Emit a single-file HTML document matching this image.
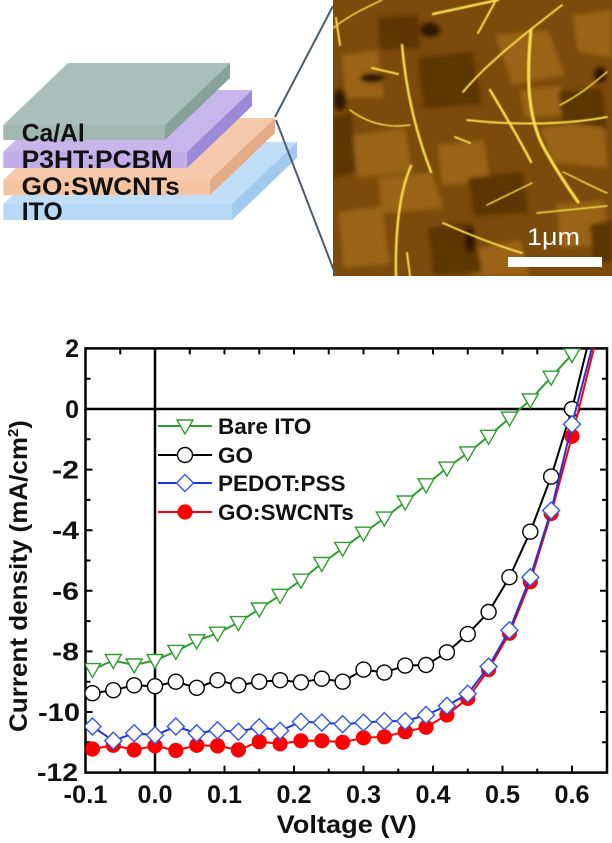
<!DOCTYPE html>
<html><head><meta charset="utf-8"><style>
html,body{margin:0;padding:0;background:#fff;}
svg{display:block;}
</style></head><body>
<svg width="612" height="843" viewBox="0 0 612 843" xmlns="http://www.w3.org/2000/svg" font-family="Liberation Sans, Arial, sans-serif">
<defs>
<clipPath id="pc"><rect x="85.5" y="348.4" width="521.5" height="424.2"/></clipPath>
<clipPath id="afm"><rect x="333" y="0" width="279" height="276"/></clipPath>
<filter id="soft" x="-5%" y="-5%" width="110%" height="110%"><feGaussianBlur stdDeviation="2.2"/></filter>
<filter id="soft2" x="-5%" y="-5%" width="110%" height="110%"><feGaussianBlur stdDeviation="0.6"/></filter>
<polygon id="tri" points="-8,-6 8,-6 0,8" fill="#fff" stroke="#2e9e2e" stroke-width="1.4"/>
<circle id="circ" r="7.5" fill="#fff" stroke="#000" stroke-width="1.4"/>
<polygon id="dia" points="0,-8.5 8.5,0 0,8.5 -8.5,0" fill="#fff" stroke="#3355ee" stroke-width="1.4"/>
<circle id="red" r="7.6" fill="#ff0000"/>
</defs>
<rect width="612" height="843" fill="#fff"/>

<!-- AFM image -->
<g clip-path="url(#afm)">
<rect x="333" y="0" width="279" height="276" fill="#7c4a0a"/>
<g filter="url(#soft)">
<g fill="#9a6414">
<polygon points="495,35 548,30 565,75 512,85"/>
<polygon points="352,135 405,128 412,172 358,178"/>
<polygon points="540,128 603,120 608,168 552,162"/>
<polygon points="378,178 432,172 444,208 382,214"/>
<polygon points="338,212 382,206 390,264 344,268"/>
<polygon points="556,205 604,200 610,244 562,248"/>
<polygon points="438,145 484,140 490,182 442,185"/>
<polygon points="342,55 378,50 384,98 346,98"/>
<polygon points="572,15 612,10 612,58 578,52"/>
<polygon points="470,250 520,240 530,276 472,276"/>
<polygon points="520,90 560,85 565,115 525,118"/>
</g>
<g fill="#5c3406">
<polygon points="418,58 472,52 482,104 424,108"/>
<polygon points="468,178 522,172 528,212 474,216"/>
<polygon points="333,118 352,112 355,172 333,178"/>
<polygon points="558,92 602,88 607,128 563,122"/>
<polygon points="428,228 472,222 482,272 434,275"/>
<polygon points="378,18 418,15 420,48 380,50"/>
<polygon points="590,225 612,220 612,262 594,262"/>
</g>
<g fill="#2e1803">
<ellipse cx="430" cy="30" rx="10" ry="7"/>
<ellipse cx="372" cy="78" rx="12" ry="5"/>
<ellipse cx="470" cy="240" rx="5" ry="13"/>
<ellipse cx="340" cy="100" rx="6" ry="11"/>
<ellipse cx="600" cy="75" rx="6" ry="8"/>
</g>
</g>
<g fill="none" stroke="#f7dc4c" stroke-linecap="round" filter="url(#soft2)">
<path d="M531,30 C526,80 528,120 545,150 S570,190 578,202" stroke-width="3.2"/>
<path d="M402,45 C406,90 415,130 431,172" stroke-width="2.5"/>
<path d="M411,166 C400,190 395,230 396,276" stroke-width="2.5"/>
<path d="M467,120 C520,126 570,124 607,117" stroke-width="2"/>
<path d="M463,92 C490,60 530,30 562,5" stroke-width="2"/>
<path d="M490,90 C505,115 520,140 531,162" stroke-width="2.5"/>
<path d="M443,223 C470,235 495,245 522,253" stroke-width="2"/>
<path d="M487,205 L532,183" stroke-width="1.5"/>
<path d="M433,14 C460,8 480,4 498,0" stroke-width="2.5"/>
<path d="M478,33 L495,2" stroke-width="2"/>
<path d="M333,28 C350,15 365,8 382,0" stroke-width="1.5"/>
<path d="M336,18 L340,45" stroke-width="2"/>
<path d="M350,110 C370,125 390,128 410,125" stroke-width="1.5"/>
<path d="M560,105 C580,95 595,82 607,72" stroke-width="1.5"/>
<path d="M372,68 L398,74" stroke-width="2"/>
<path d="M537,213 L607,206" stroke-width="1.5"/>
<path d="M407,253 L410,276" stroke-width="2"/>
<path d="M563,172 C580,180 595,188 607,193" stroke-width="1.5"/>
<path d="M455,137 L470,143" stroke-width="2"/>
</g>
<rect x="508" y="257" width="94" height="10" fill="#fff"/>
<text x="527" y="245" font-size="24" fill="#fff" textLength="53" lengthAdjust="spacingAndGlyphs">1μm</text>
</g>

<!-- Layer stack -->
<g>
<polygon points="3.3,204 232,204 297,142 68,142" fill="#c0def8"/>
<rect x="3.3" y="204" width="228.7" height="16" fill="#b8d9f5"/>
<polygon points="232,204 297,142 297,158 232,220" fill="#a3caee"/>

<polygon points="3.3,180 210,180 275,118 68,118" fill="#f6c9aa"/>
<rect x="3.3" y="180" width="206.7" height="15" fill="#f4c4a3"/>
<polygon points="210,180 275,118 275,133 210,195" fill="#e2ac88"/>

<polygon points="3.3,152 187,152 252,90 68,90" fill="#c7b5ec"/>
<rect x="3.3" y="152" width="183.7" height="16" fill="#c3aeea"/>
<polygon points="187,152 252,90 252,106 187,168" fill="#9c89d8"/>

<polygon points="3.3,125 165,125 230,63 68,63" fill="#abbfba"/>
<rect x="3.3" y="125" width="161.7" height="15" fill="#a3b7b1"/>
<polygon points="165,125 230,63 230,78 165,140" fill="#88a199"/>
</g>
<g font-weight="bold" font-size="25" fill="#111">
<text x="21.7" y="141.5" textLength="63" lengthAdjust="spacingAndGlyphs">Ca/Al</text>
<text x="21.7" y="168" textLength="151" lengthAdjust="spacingAndGlyphs">P3HT:PCBM</text>
<text x="21.7" y="195" textLength="158" lengthAdjust="spacingAndGlyphs">GO:SWCNTs</text>
<text x="21.7" y="220" textLength="41" lengthAdjust="spacingAndGlyphs">ITO</text>
</g>
<g stroke="#4d5d6b" stroke-width="2" fill="none">
<line x1="275" y1="117" x2="333" y2="6"/>
<line x1="276" y1="120" x2="336" y2="276"/>
</g>

<!-- Chart -->
<g fill="none" stroke="#000" stroke-width="2.5">
<rect x="85.5" y="348.4" width="521.5" height="424.2"/>
<line x1="85.5" y1="409" x2="607" y2="409"/>
<line x1="155" y1="348.4" x2="155" y2="772.6"/>
</g>
<g stroke="#000" stroke-width="2">
<path d="M155,772.6v-7 M224.5,772.6v-7 M294,772.6v-7 M363.5,772.6v-7 M433,772.6v-7 M502.5,772.6v-7 M572,772.6v-7"/>
<path d="M120.25,772.6v-4 M189.75,772.6v-4 M259.25,772.6v-4 M328.75,772.6v-4 M398.25,772.6v-4 M467.75,772.6v-4 M537.25,772.6v-4"/>
<path d="M155,348.4v6 M224.5,348.4v6 M294,348.4v6 M363.5,348.4v6 M433,348.4v6 M502.5,348.4v6 M572,348.4v6"/>
<path d="M120.25,348.4v6 M189.75,348.4v6 M259.25,348.4v6 M328.75,348.4v6 M398.25,348.4v6 M467.75,348.4v6 M537.25,348.4v6"/>
<path d="M85.5,469.6h7 M85.5,530.2h7 M85.5,590.8h7 M85.5,651.4h7 M85.5,712h7"/>
<path d="M85.5,378.7h5 M85.5,439.3h5 M85.5,499.9h5 M85.5,560.5h5 M85.5,621.1h5 M85.5,681.7h5 M85.5,742.3h5"/>
<path d="M607,469.6h-7 M607,530.2h-7 M607,590.8h-7 M607,651.4h-7 M607,712h-7"/>
<path d="M607,378.7h-5 M607,439.3h-5 M607,499.9h-5 M607,560.5h-5 M607,621.1h-5 M607,681.7h-5 M607,742.3h-5"/>
</g>

<g font-weight="bold" font-size="25" fill="#111" text-anchor="end">
<text x="79" y="357">2</text>
<text x="79" y="418">0</text>
<text x="79" y="478.6" textLength="27" lengthAdjust="spacingAndGlyphs">-2</text>
<text x="79" y="539.2" textLength="27" lengthAdjust="spacingAndGlyphs">-4</text>
<text x="79" y="599.8" textLength="27" lengthAdjust="spacingAndGlyphs">-6</text>
<text x="79" y="660.4" textLength="27" lengthAdjust="spacingAndGlyphs">-8</text>
<text x="80" y="721" textLength="42" lengthAdjust="spacingAndGlyphs">-10</text>
<text x="78" y="781.2" textLength="41" lengthAdjust="spacingAndGlyphs">-12</text>
</g>
<g font-weight="bold" font-size="25" fill="#111" text-anchor="middle">
<text x="85.5" y="803" textLength="44" lengthAdjust="spacingAndGlyphs">-0.1</text>
<text x="155" y="803" textLength="35" lengthAdjust="spacingAndGlyphs">0.0</text>
<text x="224.5" y="803" textLength="35" lengthAdjust="spacingAndGlyphs">0.1</text>
<text x="294" y="803" textLength="35" lengthAdjust="spacingAndGlyphs">0.2</text>
<text x="363.5" y="803" textLength="35" lengthAdjust="spacingAndGlyphs">0.3</text>
<text x="433" y="803" textLength="35" lengthAdjust="spacingAndGlyphs">0.4</text>
<text x="502.5" y="803" textLength="35" lengthAdjust="spacingAndGlyphs">0.5</text>
<text x="572" y="803" textLength="35" lengthAdjust="spacingAndGlyphs">0.6</text>
</g>
<text x="276.7" y="833" font-weight="bold" font-size="25" fill="#111" textLength="140" lengthAdjust="spacingAndGlyphs">Voltage (V)</text>
<text transform="translate(27,732) rotate(-90)" font-weight="bold" font-size="25" fill="#111"><tspan textLength="295" lengthAdjust="spacingAndGlyphs">Current density (mA/cm</tspan><tspan dy="-9" font-size="15">2</tspan><tspan dy="9">)</tspan></text>

<!-- Series -->
<g clip-path="url(#pc)" fill="none" stroke-width="2">
<polyline stroke="#2e9e2e" points="92.45,669.6 113.3,660.5 134.15,665.0 155,660.5 175.85,651.4 196.7,640.8 217.55,633.2 238.4,622.6 259.25,609.0 280.1,595.3 300.95,580.2 321.8,563.5 342.65,548.4 363.5,533.2 384.35,518.1 405.2,502.0 426.05,484.8 446.9,468.1 467.75,452.9 488.6,436.3 509.45,418.1 530.3,399.9 551.15,377.2 572,354.5 582.4,345.4"/>
</g>
<g clip-path="url(#pc)">
<use href="#tri" x="92.45" y="669.6"/><use href="#tri" x="113.3" y="660.5"/><use href="#tri" x="134.15" y="665.0"/><use href="#tri" x="155" y="660.5"/><use href="#tri" x="175.85" y="651.4"/><use href="#tri" x="196.7" y="640.8"/><use href="#tri" x="217.55" y="633.2"/><use href="#tri" x="238.4" y="622.6"/><use href="#tri" x="259.25" y="609.0"/><use href="#tri" x="280.1" y="595.3"/><use href="#tri" x="300.95" y="580.2"/><use href="#tri" x="321.8" y="563.5"/><use href="#tri" x="342.65" y="548.4"/><use href="#tri" x="363.5" y="533.2"/><use href="#tri" x="384.35" y="518.1"/><use href="#tri" x="405.2" y="502.0"/><use href="#tri" x="426.05" y="484.8"/><use href="#tri" x="446.9" y="468.1"/><use href="#tri" x="467.75" y="452.9"/><use href="#tri" x="488.6" y="436.3"/><use href="#tri" x="509.45" y="418.1"/><use href="#tri" x="530.3" y="399.9"/><use href="#tri" x="551.15" y="377.2"/><use href="#tri" x="572" y="354.5"/>
</g>

<g clip-path="url(#pc)" fill="none" stroke-width="2">
<polyline stroke="#000" points="92.45,693.2 113.3,690.2 134.15,685.3 155,686.2 175.85,681.7 196.7,687.8 217.55,680.2 238.4,685.3 259.25,681.7 280.1,680.2 300.95,682.3 321.8,678.7 342.65,681.7 363.5,669.6 384.35,672.6 405.2,665.6 426.05,665.0 446.9,652.3 467.75,634.1 488.6,612.0 509.45,577.2 530.3,531.7 551.15,476.6 572,409 589,340"/>
</g>
<g clip-path="url(#pc)">
<use href="#circ" x="92.45" y="693.2"/><use href="#circ" x="113.3" y="690.2"/><use href="#circ" x="134.15" y="685.3"/><use href="#circ" x="155" y="686.2"/><use href="#circ" x="175.85" y="681.7"/><use href="#circ" x="196.7" y="687.8"/><use href="#circ" x="217.55" y="680.2"/><use href="#circ" x="238.4" y="685.3"/><use href="#circ" x="259.25" y="681.7"/><use href="#circ" x="280.1" y="680.2"/><use href="#circ" x="300.95" y="682.3"/><use href="#circ" x="321.8" y="678.7"/><use href="#circ" x="342.65" y="681.7"/><use href="#circ" x="363.5" y="669.6"/><use href="#circ" x="384.35" y="672.6"/><use href="#circ" x="405.2" y="665.6"/><use href="#circ" x="426.05" y="665.0"/><use href="#circ" x="446.9" y="652.3"/><use href="#circ" x="467.75" y="634.1"/><use href="#circ" x="488.6" y="612.0"/><use href="#circ" x="509.45" y="577.2"/><use href="#circ" x="530.3" y="531.7"/><use href="#circ" x="551.15" y="476.6"/><use href="#circ" x="572" y="409"/>
</g>

<g clip-path="url(#pc)" fill="none" stroke-width="2">
<polyline stroke="#ff0000" points="92.45,749.0 113.3,745.3 134.15,749.9 155,745.9 175.85,750.5 196.7,745.3 217.55,745.9 238.4,749.9 259.25,741.7 280.1,743.8 300.95,740.8 321.8,740.8 342.65,742.3 363.5,737.8 384.35,736.8 405.2,731.7 426.05,727.2 446.9,715.0 467.75,698.4 488.6,669.6 509.45,633.2 530.3,581.7 551.15,513.5 572,436.3 596,340"/>
</g>
<g clip-path="url(#pc)">
<use href="#red" x="92.45" y="749.0"/><use href="#red" x="113.3" y="745.3"/><use href="#red" x="134.15" y="749.9"/><use href="#red" x="155" y="745.9"/><use href="#red" x="175.85" y="750.5"/><use href="#red" x="196.7" y="745.3"/><use href="#red" x="217.55" y="745.9"/><use href="#red" x="238.4" y="749.9"/><use href="#red" x="259.25" y="741.7"/><use href="#red" x="280.1" y="743.8"/><use href="#red" x="300.95" y="740.8"/><use href="#red" x="321.8" y="740.8"/><use href="#red" x="342.65" y="742.3"/><use href="#red" x="363.5" y="737.8"/><use href="#red" x="384.35" y="736.8"/><use href="#red" x="405.2" y="731.7"/><use href="#red" x="426.05" y="727.2"/><use href="#red" x="446.9" y="715.0"/><use href="#red" x="467.75" y="698.4"/><use href="#red" x="488.6" y="669.6"/><use href="#red" x="509.45" y="633.2"/><use href="#red" x="530.3" y="581.7"/><use href="#red" x="551.15" y="513.5"/><use href="#red" x="572" y="436.3"/>
</g>

<g clip-path="url(#pc)" fill="none" stroke-width="2">
<polyline stroke="#2233dd" points="92.45,726.5 113.3,740.8 134.15,733.2 155,735.3 175.85,726.5 196.7,733.2 217.55,730.2 238.4,731.7 259.25,727.2 280.1,730.8 300.95,721.7 321.8,722.6 342.65,724.1 363.5,722.6 384.35,721.1 405.2,721.1 426.05,715.0 446.9,705.9 467.75,693.8 488.6,666.6 509.45,630.2 530.3,577.2 551.15,510.5 572,424.2 594,340"/>
</g>
<g clip-path="url(#pc)">
<use href="#dia" x="92.45" y="726.5"/><use href="#dia" x="113.3" y="740.8"/><use href="#dia" x="134.15" y="733.2"/><use href="#dia" x="155" y="735.3"/><use href="#dia" x="175.85" y="726.5"/><use href="#dia" x="196.7" y="733.2"/><use href="#dia" x="217.55" y="730.2"/><use href="#dia" x="238.4" y="731.7"/><use href="#dia" x="259.25" y="727.2"/><use href="#dia" x="280.1" y="730.8"/><use href="#dia" x="300.95" y="721.7"/><use href="#dia" x="321.8" y="722.6"/><use href="#dia" x="342.65" y="724.1"/><use href="#dia" x="363.5" y="722.6"/><use href="#dia" x="384.35" y="721.1"/><use href="#dia" x="405.2" y="721.1"/><use href="#dia" x="426.05" y="715.0"/><use href="#dia" x="446.9" y="705.9"/><use href="#dia" x="467.75" y="693.8"/><use href="#dia" x="488.6" y="666.6"/><use href="#dia" x="509.45" y="630.2"/><use href="#dia" x="530.3" y="577.2"/><use href="#dia" x="551.15" y="510.5"/><use href="#dia" x="572" y="424.2"/>
</g>

<!-- Legend -->
<g stroke-width="2">
<line x1="158" y1="426" x2="212" y2="426" stroke="#2e9e2e"/>
<line x1="158" y1="455" x2="212" y2="455" stroke="#000"/>
<line x1="158" y1="483" x2="212" y2="483" stroke="#2233dd"/>
<line x1="158" y1="512" x2="212" y2="512" stroke="#ff0000"/>
</g>
<use href="#tri" x="185" y="426"/>
<use href="#circ" x="185" y="455"/>
<use href="#dia" x="185" y="483"/>
<use href="#red" x="185" y="512"/>
<g font-weight="bold" font-size="22.5" fill="#111">
<text x="218" y="434">Bare ITO</text>
<text x="218" y="463">GO</text>
<text x="218" y="491">PEDOT:PSS</text>
<text x="218" y="520">GO:SWCNTs</text>
</g>
</svg>
</body></html>
